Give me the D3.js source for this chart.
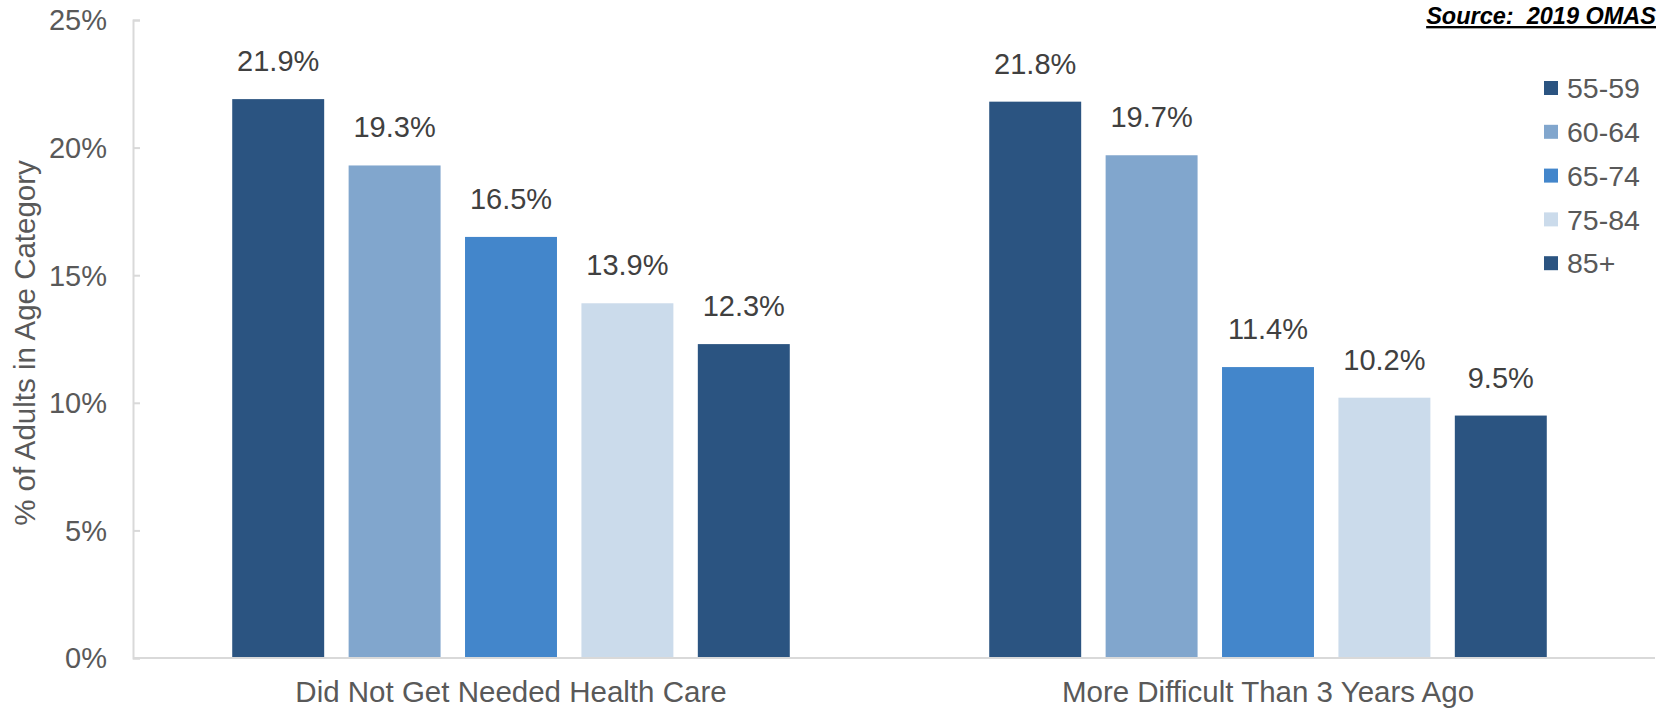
<!DOCTYPE html>
<html>
<head>
<meta charset="utf-8">
<script src="https://cdn.jsdelivr.net/npm/d3@7"></script>
<style>
  body { margin: 0; background: #fff; }
  text { font-family: "Liberation Sans", Arial, sans-serif; }
</style>
</head>
<body>
<div id="chart"></div>
<script>
// categories and series
var categories = ["Did Not Get Needed Health Care", "More Difficult Than 3 Years Ago"];
var ageGroups = ["55-59", "60-64", "65-74", "75-84", "85+"];
var didNotGetCare = [21.9, 19.3, 16.5, 13.9, 12.3];
var moreDifficult = [21.8, 19.7, 11.4, 10.2, 9.5];
var yTicks = [0, 5, 10, 15, 20, 25];
var colors = ["#2b5481", "#81a6cd", "#4386cb", "#cbdbeb", "#2b5481"];

var width = 1674, height = 711;
var margin = { left: 133, right: 19, top: 20, bottom: 53 };

var svg = d3.select("#chart").append("svg")
    .attr("width", width)
    .attr("height", height);

// scales
var x0 = d3.scaleBand()
    .domain(categories)
    .range([132.5, 1646.5]);

var groupW = 582;
var x1 = d3.scaleBand()
    .domain(ageGroups)
    .range([(x0.bandwidth() - groupW) / 2, (x0.bandwidth() + groupW) / 2])
    .paddingInner(0.21)
    .paddingOuter(0.105);

var y = d3.scaleLinear()
    .domain([0, 25])
    .range([height - margin.bottom, margin.top]);

// y axis
var yAxis = svg.append("g")
    .attr("transform", "translate(" + margin.left + ",0)")
    .call(d3.axisRight(y).tickValues(yTicks).tickSize(7).tickFormat(""));
yAxis.select(".domain").attr("stroke", "#d9d9d9").attr("stroke-width", 2);
yAxis.selectAll(".tick line").attr("stroke", "#d9d9d9").attr("stroke-width", 2);

svg.append("g").selectAll("text")
    .data(yTicks)
    .enter().append("text")
    .attr("x", 107)
    .attr("y", d => y(d))
    .attr("dy", "0.36em")
    .attr("text-anchor", "end")
    .attr("fill", "#595959")
    .style("font-size", "29px")
    .text(d => d + "%");

// y axis title
svg.append("text")
    .attr("transform", "translate(35,343) rotate(-90)")
    .attr("text-anchor", "middle")
    .attr("fill", "#595959")
    .style("font-size", "29.5px")
    .text("% of Adults in Age Category");

// bars
var table = categories.map((c, i) => ({
    cat: c,
    values: (i === 0 ? didNotGetCare : moreDifficult).map((v, j) => ({ age: ageGroups[j], value: v, color: colors[j] }))
}));

var groups = svg.selectAll(".grp")
    .data(table)
    .enter().append("g")
    .attr("class", "grp")
    .attr("transform", d => "translate(" + x0(d.cat) + ",0)");

groups.selectAll("rect")
    .data(d => d.values)
    .enter().append("rect")
    .attr("x", d => x1(d.age))
    .attr("y", d => y(d.value))
    .attr("width", x1.bandwidth())
    .attr("height", d => y(0) - y(d.value))
    .attr("fill", d => d.color);

groups.selectAll(".lbl")
    .data(d => d.values)
    .enter().append("text")
    .attr("class", "lbl")
    .attr("x", d => x1(d.age) + x1.bandwidth() / 2)
    .attr("y", d => y(d.value) - 28)
    .attr("text-anchor", "middle")
    .attr("fill", "#404040")
    .style("font-size", "29px")
    .text(d => d.value.toFixed(1) + "%");

// x axis line
svg.append("line")
    .attr("x1", margin.left)
    .attr("x2", width - margin.right)
    .attr("y1", y(0))
    .attr("y2", y(0))
    .attr("stroke", "#d9d9d9")
    .attr("stroke-width", 2);

svg.append("g").selectAll("text")
    .data(categories)
    .enter().append("text")
    .attr("x", d => x0(d) + x0.bandwidth() / 2)
    .attr("y", 702)
    .attr("text-anchor", "middle")
    .attr("fill", "#595959")
    .style("font-size", "29.5px")
    .text(d => d);

// legend
var legend = svg.append("g")
    .attr("transform", "translate(1544,88)");
var item = legend.selectAll("g")
    .data(ageGroups)
    .enter().append("g")
    .attr("transform", (d, i) => "translate(0," + i * 43.8 + ")");
item.append("rect")
    .attr("x", 0).attr("y", -7)
    .attr("width", 14).attr("height", 14)
    .attr("fill", (d, i) => colors[i]);
item.append("text")
    .attr("x", 23)
    .attr("dy", "0.36em")
    .attr("fill", "#595959")
    .style("font-size", "28.5px")
    .text(d => d);

// source note
svg.append("text")
    .attr("x", 1656)
    .attr("y", 24)
    .attr("text-anchor", "end")
    .attr("fill", "#000")
    .style("font-size", "23.5px")
    .style("font-weight", "bold")
    .style("font-style", "italic")
    .style("text-decoration", "underline")
    .style("white-space", "pre")
    .text("Source:  2019 OMAS");
</script>
</body>
</html>
